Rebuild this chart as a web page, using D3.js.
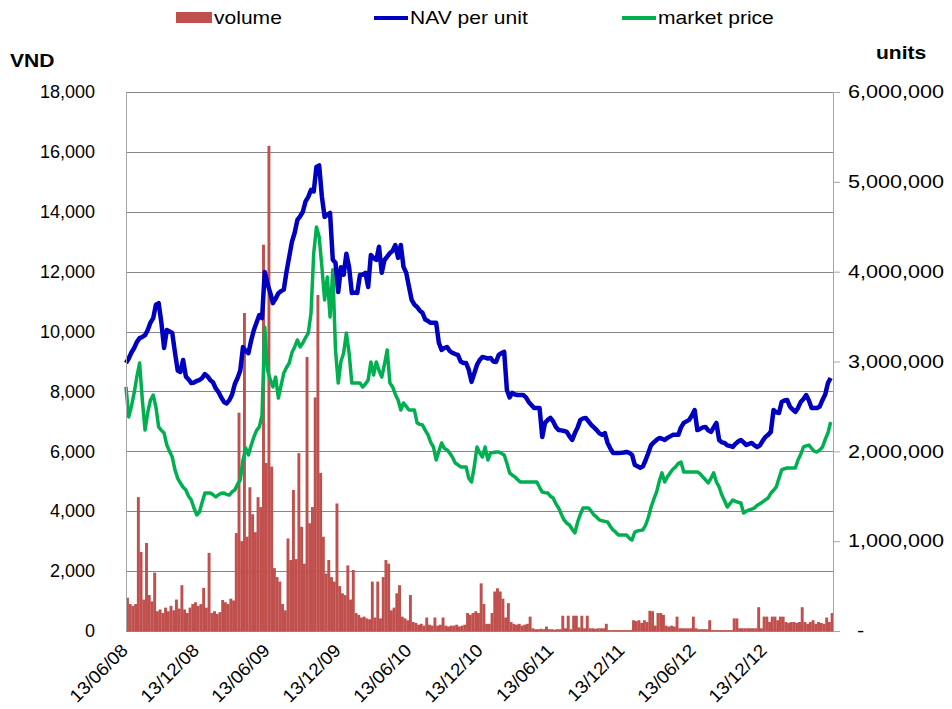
<!DOCTYPE html>
<html>
<head>
<meta charset="utf-8">
<script src="https://cdn.jsdelivr.net/npm/d3@7"></script>
<style>
  body { margin: 0; background: #fff; }
  text { font-family: "Liberation Sans", Arial, sans-serif; fill: #000; }
</style>
</head>
<body>
<div id="chart"></div>
<script>
// weekly observations, first week = 13/06/08
var startDate = "13/06/08";

// NAV per unit (VND), one value per week
var navValues = [
  8950, 9100, 9300, 9450, 9650, 9780, 9820, 9880, 10050, 10300,
  10450, 10900, 10950, 10300, 9450, 10050, 10000, 9950, 9300, 8700,
  8650, 9050, 8500, 8400, 8280, 8300, 8350, 8380, 8450, 8580,
  8500, 8380, 8300, 8100, 7980, 7800, 7650, 7600, 7710, 7900,
  8250, 8450, 8700, 9480, 9350, 9280, 9700, 10050, 10300, 10550,
  10450, 11990, 11600, 11300, 10950, 11100, 11280, 11350, 11400, 12000,
  12500, 13000, 13300, 13730, 13850, 14000, 14350, 14500, 14730, 14680,
  15500, 15550, 14500, 13830, 13900, 13960, 12400, 12300, 11320, 12150,
  11900, 12600, 12150, 11290, 11300, 11290, 11890, 11900, 11960, 11490,
  12560, 12450, 12390, 12830, 11960, 12390, 12500, 12620, 12700, 12890,
  12460, 12890, 12160, 11960, 11500, 11055, 10900, 10820, 10700, 10620,
  10400, 10350, 10290, 10290, 10290, 9620, 9385, 9450, 9485, 9350,
  9285, 9250, 9220, 9000, 8950, 8950, 8720, 8320, 8600, 8885,
  9050, 9150, 9130, 9100, 9120, 9000, 8985, 9220, 9280, 9320,
  8050, 7800, 7950, 7900, 7880, 7880, 7880, 7800, 7650, 7550,
  7450, 7450, 7450, 6480, 6950, 7050, 7115, 7000, 6815, 6710,
  6700, 6680, 6650, 6500, 6380, 6610, 6800, 7050, 7100, 7115,
  7000, 6880, 6800, 6710, 6600, 6550, 6610, 6280, 6100, 5945,
  5945, 5945, 5950, 5960, 5980, 5950, 5880, 5545, 5500, 5450,
  5500, 5710, 5950, 6210, 6300, 6380, 6445, 6420, 6380, 6450,
  6500, 6550, 6550, 6550, 6800, 6950, 7000, 7050, 7200, 7380,
  6710, 6750, 6800, 6815, 6700, 6650, 6800, 6950, 6380, 6300,
  6280, 6200, 6180, 6145, 6250, 6330, 6380, 6300, 6210, 6250,
  6280, 6200, 6145, 6200, 6350, 6480, 6550, 6650, 7380, 7300,
  7280, 7650, 7700, 7715, 7500, 7400, 7315, 7450, 7650, 7750,
  7880, 7700, 7450, 7450, 7450, 7500, 7715, 7900, 8280, 8450
];

// market price (VND), one value per week
var priceValues = [
  8150, 7150, 7500, 7950, 8500, 8950, 7715, 6710, 7300, 7715,
  7880, 7480, 6815, 6700, 6610, 6210, 6000, 5810, 5380, 5100,
  4940, 4800, 4710, 4500, 4375, 4100, 3875, 3975, 4300, 4610,
  4610, 4610, 4550, 4475, 4550, 4600, 4610, 4560, 4540, 4650,
  4710, 4900, 5045, 5710, 6110, 5880, 6200, 6480, 6700, 6815,
  7200, 10150, 8715, 8400, 8150, 8480, 7780, 8200, 8615, 8800,
  8950, 9300, 9485, 9720, 9485, 9620, 9800, 9950, 10620, 12620,
  13490, 13160, 12160, 11055, 11820, 10490, 12060, 9385, 8280, 9000,
  9285, 9950, 9285, 8280, 8280, 8280, 8280, 8150, 8250, 8380,
  8985, 8550, 8985, 8700, 8480, 8900, 9385, 8280, 8150, 7900,
  7715, 7380, 7615, 7500, 7380, 7380, 7380, 6950, 6900, 6880,
  6700, 6550, 6300, 6145, 5710, 6000, 6280, 6100, 6045, 5945,
  5800, 5610, 5550, 5480, 5480, 5480, 5100, 4975, 5480, 6145,
  5950, 5810, 6145, 5710, 5945, 5960, 5980, 5980, 5930, 5880,
  5600, 5280, 5200, 5145, 5050, 4975, 4975, 4975, 4975, 4975,
  4975, 4975, 4800, 4640, 4620, 4610, 4500, 4440, 4250, 4110,
  3900, 3710, 3600, 3540, 3400, 3275, 3640, 3900, 4110, 4110,
  4110, 4000, 3875, 3800, 3710, 3680, 3660, 3640, 3500, 3375,
  3300, 3205, 3205, 3205, 3205, 3100, 3040, 3305, 3340, 3360,
  3375, 3540, 3800, 4140, 4400, 4640, 5000, 5280, 4975, 5150,
  5280, 5400, 5480, 5600, 5645, 5310, 5310, 5310, 5310, 5310,
  5310, 5250, 5145, 5050, 4945, 5100, 5280, 4975, 4810, 4540,
  4350, 4140, 4250, 4375, 4330, 4300, 4275, 3940, 4000, 4040,
  4070, 4110, 4200, 4250, 4310, 4380, 4440, 4600, 4700, 4810,
  5100, 5380, 5420, 5445, 5445, 5445, 5445, 5710, 5900, 6145,
  6180, 6210, 6100, 6000, 5980, 6050, 6145, 6400, 6610, 6980
];

// traded volume (thousand units), one value per week
var volumeValues = [
  370, 300, 280, 300, 1490, 880, 350, 980, 400, 330,
  650, 220, 240, 200, 260, 220, 280, 230, 350, 250,
  510, 240, 200, 260, 300, 320, 280, 300, 480, 260,
  870, 200, 220, 190, 210, 345, 320, 300, 360, 340,
  1090, 2430, 1000, 3540, 1050, 1600, 1300, 1100, 1490, 1380,
  4300, 1870, 5400, 1830, 700, 600, 550, 300, 230, 1030,
  790, 1570, 800, 1980, 1160, 750, 3050, 1200, 1380, 2600,
  3740, 1760, 1050, 640, 790, 600, 550, 1420, 500, 420,
  400, 730, 350, 680, 200, 180, 150, 160, 140, 130,
  550, 150, 550, 140, 600, 790, 750, 230, 260, 420,
  510, 160, 140, 120, 400, 100, 90, 70, 80, 60,
  150, 70, 60, 150, 60, 70, 150, 60, 50, 60,
  60, 70, 50, 60, 70, 200, 180, 200, 220, 200,
  530, 300, 80, 80, 200, 440, 475, 440, 360, 150,
  310, 100, 80, 70, 80, 60, 70, 80, 160, 30,
  20, 20, 25, 20, 50, 20, 20, 15, 20, 20,
  170, 30, 170, 20, 170, 170, 40, 170, 30, 170,
  30, 30, 25, 30, 30, 30, 80, 10, 10, 10,
  10, 10, 10, 10, 10, 10, 120, 110, 120, 90,
  120, 100, 225, 220, 60, 200, 200, 180, 60, 50,
  60, 50, 160, 30, 30, 30, 30, 30, 160, 30,
  20, 20, 20, 20, 120, 10, 10, 10, 10, 10,
  10, 10, 10, 140, 140, 30, 30, 30, 30, 30,
  30, 30, 265, 30, 160, 160, 100, 160, 160, 120,
  160, 160, 100, 90, 100, 100, 90, 100, 265, 100,
  80, 100, 120, 80, 100, 90, 80, 150, 100, 200
];

// axis ticks
var dateTicks = ["13/06/08", "13/12/08", "13/06/09", "13/12/09", "13/06/10",
                 "13/12/10", "13/06/11", "13/12/11", "13/06/12", "13/12/12"];
var vndTicks = [0, 2000, 4000, 6000, 8000, 10000, 12000, 14000, 16000, 18000];
var unitTicks = [0, 1000000, 2000000, 3000000, 4000000, 5000000, 6000000];
var endDate = "06/06/13";

function init() {
	//Dimensions
	var w = 952;
	var h = 709;
	var margin = {top: 92, right: 119, bottom: 78, left: 126};
	var pw = w - margin.left - margin.right;
	var ph = h - margin.top - margin.bottom;
	var stretch = 1.17;	// the source text is drawn a bit wide

	var parse = d3.timeParse("%d/%m/%y");
	var start = parse(startDate);

	// one date per weekly value
	var data = navValues.map(function(v, i) {
		return {
			date: d3.timeDay.offset(start, 7 * i),
			nav: v,
			price: priceValues[i],
			volume: volumeValues[i] * 1000
		};
	});

	var svg = d3.select("#chart")
				.append("svg")
				.attr("width", w)
				.attr("height", h);

	var g = svg.append("g")
				.attr("transform", "translate(" + margin.left + "," + margin.top + ")");

	//Scaling
	var xScale = d3.scaleTime()
				.domain([start, parse(endDate)])
				.range([0, pw]);

	var yScale = d3.scaleLinear()	//VND, left axis
				.domain([0, 18000])
				.range([ph, 0]);

	var y2Scale = d3.scaleLinear()	//units, right axis
				.domain([0, 6000000])
				.range([ph, 0]);

	//Gridlines
	g.append("g")
		.selectAll("line")
		.data(vndTicks)
		.enter()
		.append("line")
		.attr("x1", 0)
		.attr("x2", pw)
		.attr("y1", function(d) { return Math.round(yScale(d)) + 0.5; })
		.attr("y2", function(d) { return Math.round(yScale(d)) + 0.5; })
		.attr("stroke", "#868686")
		.attr("stroke-width", 1);

	//Volume bars
	var barW = xScale(d3.timeDay.offset(start, 7)) - xScale(start) + 0.2;
	g.append("g")
		.selectAll("rect")
		.data(data)
		.enter()
		.append("rect")
		.attr("x", function(d) { return xScale(d.date); })
		.attr("y", function(d) { return y2Scale(d.volume); })
		.attr("width", barW)
		.attr("height", function(d) { return ph - y2Scale(d.volume); })
		.attr("fill", "#c0504d");

	//Lines
	var priceLine = d3.line()
		.x(function(d) { return xScale(d.date); })
		.y(function(d) { return yScale(d.price); });
	var navLine = d3.line()
		.x(function(d) { return xScale(d.date); })
		.y(function(d) { return yScale(d.nav); });

	g.append("path")
		.datum(data)
		.attr("d", priceLine)
		.attr("fill", "none")
		.attr("stroke", "#00b050")
		.attr("stroke-width", 3.5)
		.attr("stroke-linejoin", "round");

	g.append("path")
		.datum(data)
		.attr("d", navLine)
		.attr("fill", "none")
		.attr("stroke", "#0000c0")
		.attr("stroke-width", 4.5)
		.attr("stroke-linejoin", "round");

	//Axis - left
	var yAxis = d3.axisLeft(yScale)
		.tickValues(vndTicks)
		.tickSize(0)
		.tickPadding(31)
		.tickFormat(d3.format(","));
	var yAxisG = g.append("g").call(yAxis);
	yAxisG.select(".domain").attr("stroke", "#a6a6a6");
	yAxisG.selectAll("text").style("font-size", "18px");

	//Axis - right
	var y2Axis = d3.axisRight(y2Scale)
		.tickValues(unitTicks)
		.tickSize(7)
		.tickSizeOuter(0)
		.tickPadding(8)
		.tickFormat(function(d) { return d === 0 ? "-" : d3.format(",")(d); });
	var y2AxisG = g.append("g")
		.attr("transform", "translate(" + pw + ",0)")
		.call(y2Axis);
	y2AxisG.select(".domain").attr("stroke", "#a6a6a6");
	y2AxisG.selectAll("line").attr("stroke", "#a6a6a6");
	y2AxisG.selectAll("text")
		.style("font-size", "18px")
		.attr("x", 15 / 1.2)
		.attr("transform", "scale(1.2,1)");
	y2AxisG.selectAll("text").filter(function(d) { return d === 0; }).attr("x", 20);

	//Axis - bottom
	var xAxis = d3.axisBottom(xScale)
		.tickValues(dateTicks.map(parse))
		.tickSize(0)
		.tickFormat(d3.timeFormat("%d/%m/%y"));
	var xAxisG = g.append("g")
		.attr("transform", "translate(0," + ph + ")")
		.call(xAxis);
	xAxisG.select(".domain").attr("stroke", "#868686");
	xAxisG.selectAll("text")
		.style("font-size", "18px")
		.attr("text-anchor", "end")
		.attr("dy", "0.35em")
		.attr("y", 0)
		.attr("transform", "translate(-2,16)rotate(-45)scale(1.05,1)");

	// stretched text helper for titles and legend
	function wideText(x, y, str, bold) {
		var t = svg.append("g")
			.attr("transform", "translate(" + x + "," + y + ")scale(" + stretch + ",1)")
			.append("text")
			.style("font-size", "18px")
			.text(str);
		if (bold) t.style("font-weight", "bold");
		return t;
	}

	//Axis titles
	wideText(10, 67, "VND", true);
	wideText(876, 59, "units", true);

	//Legend
	var legend = svg.append("g");
	legend.append("rect")
		.attr("x", 176).attr("y", 12)
		.attr("width", 36).attr("height", 11)
		.attr("fill", "#c0504d");
	legend.append("line")
		.attr("x1", 374).attr("x2", 408).attr("y1", 18).attr("y2", 18)
		.attr("stroke", "#0000c0").attr("stroke-width", 4);
	legend.append("line")
		.attr("x1", 622).attr("x2", 656).attr("y1", 18).attr("y2", 18)
		.attr("stroke", "#00b050").attr("stroke-width", 4);
	wideText(214, 24, "volume", false);
	wideText(410, 24, "NAV per unit", false);
	wideText(658, 24, "market price", false);
}
window.onload = init;
</script>
</body>
</html>
